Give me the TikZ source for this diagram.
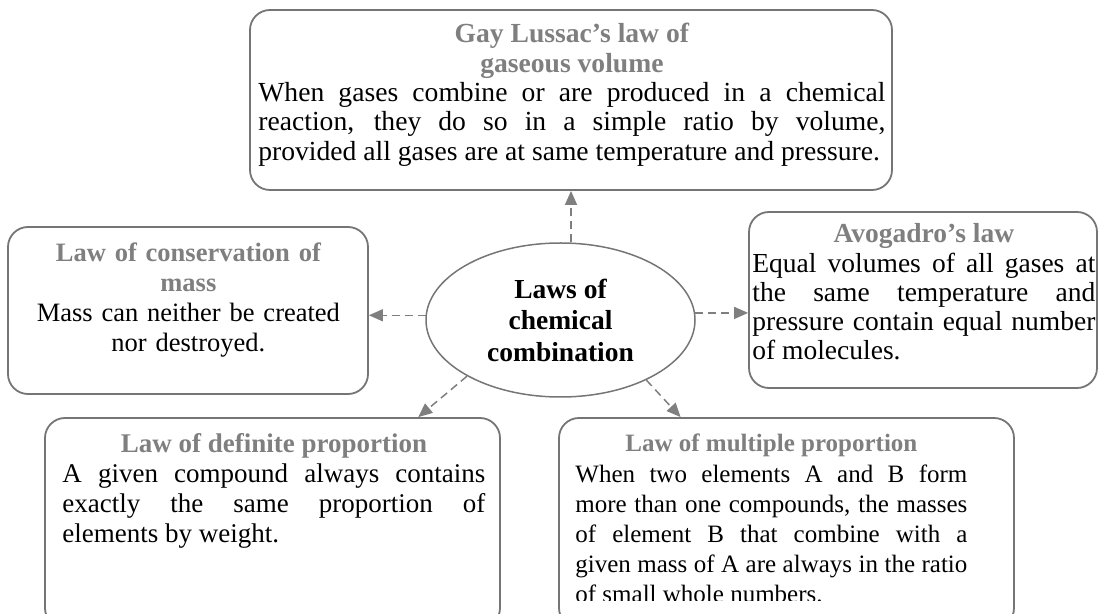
\documentclass[tikz,border=0pt]{standalone}
\usepackage{fontspec}
\setmainfont{Liberation Serif}
\usetikzlibrary{shapes.geometric,arrows.meta}

\definecolor{lawgray}{HTML}{7F7F7F}
\definecolor{linegray}{HTML}{757575}

\newcommand{\lawfont}[2]{\fontsize{#1}{#2}\selectfont}
\newcommand{\lawtitle}[1]{{\centering\bfseries\color{lawgray}#1\par}}

\tikzset{
  lawbox/.style={draw=linegray, line width=0.9pt, rounded corners=10pt, inner sep=0pt},
  lawtext/.style={text width=#1, align=justify, inner sep=0pt, anchor=base west,
    execute at begin node={\parindent=0pt\hyphenpenalty=10000\tolerance=9999\hbadness=10000\emergencystretch=2em}},
  link/.style={draw=lawgray, line width=0.75pt, dash pattern=on 4pt off 2.5pt,
    -{Triangle[length=7pt,width=6pt]}}
}

\begin{document}
\begin{tikzpicture}[x=0.5pt,y=-0.5pt]
  \path[use as bounding box, clip] (0,0) rectangle (1098,614);

  % Frames
  \node[lawbox, minimum width=321pt, minimum height=90pt] (gaylussac) at (571,100) {};
  \node[lawbox, minimum width=180pt, minimum height=83.5pt] (conservation) at (188,310.5) {};
  \node[lawbox, minimum width=174pt, minimum height=88pt] (avogadro) at (923,300) {};
  \node[lawbox, minimum width=227.5pt, minimum height=105pt] (definite) at (272.5,523) {};
  \node[lawbox, minimum width=227.5pt, minimum height=105pt] (multiple) at (786.5,523) {};

  % Centre
  \node[ellipse, draw=linegray, line width=0.75pt, minimum width=134.5pt, minimum height=77pt,
    inner sep=0pt, align=center, font=\lawfont{13.75}{15.75}\bfseries] (chem) at (560.5,320)
    {Laws of\\ chemical\\ combination};

  % Texts
  \node[lawtext=313.5pt, font=\lawfont{13.8}{14.65}] (gaylussac-txt) at (258,43)
    {\lawtitle{Gay Lussac's law of\\ gaseous volume}When gases combine or are produced in a chemical\linebreak
     reaction, they do so in a simple ratio by volume,\linebreak
     provided all gases are at same temperature and pressure.};
  \node[lawtext=170pt, align=center, font=\lawfont{13.25}{15}] (conservation-txt) at (18,262)
    {{\bfseries\color{lawgray}Law of conservation of\\ mass}\\ Mass can neither be created\\ nor destroyed.};
  \node[lawtext=171.5pt, font=\lawfont{13.75}{14.6}] (avogadro-txt) at (752,243)
    {\lawtitle{Avogadro's law}Equal volumes of all gases at\linebreak
     the same temperature and\linebreak
     pressure contain equal number\linebreak
     of molecules.};
  \node[lawtext=211.5pt, font=\lawfont{13.5}{14.85}] (definite-txt) at (62,453)
    {\lawtitle{Law of definite proportion}A given compound always contains\linebreak
     exactly the same proportion of\linebreak
     elements by weight.};
  \begin{scope}
    \clip (559,418) rectangle (1014,600);
    \node[lawtext=196pt, font=\lawfont{12.5}{15.1}] (multiple-txt) at (575,452)
      {\lawtitle{Law of multiple proportion}When two elements A and B form\linebreak
       more than one compounds, the masses\linebreak
       of element B that combine with a\linebreak
       given mass of A are always in the ratio\linebreak
       of small whole numbers.};
  \end{scope}

  % Links
  \draw[link] (chem.north -| gaylussac.south) -- (gaylussac.south);
  \draw[link] (chem.178) -- (chem.178 -| conservation.east);
  \draw[link] (chem.3) -- (chem.3 -| avogadro.west);
  \draw[link] (chem.211) -- (definite.36);
  \draw[link] (chem.325) -- (multiple.135);
\end{tikzpicture}
\end{document}
